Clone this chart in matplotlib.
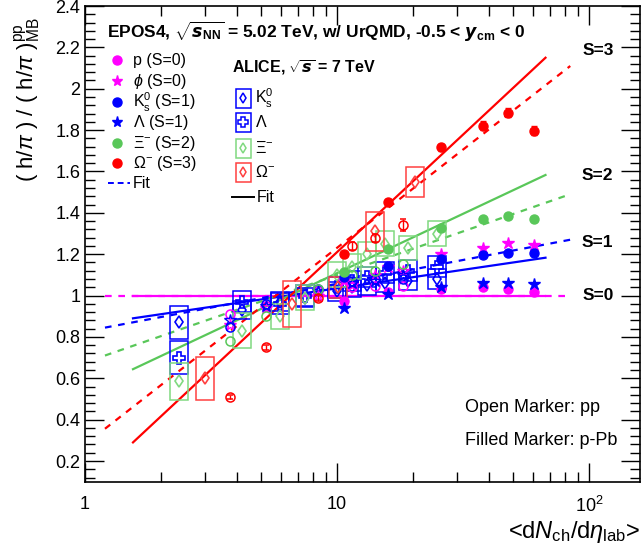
import matplotlib
matplotlib.use("Agg")
import matplotlib.pyplot as plt
from matplotlib.patches import Rectangle
from matplotlib.ticker import MultipleLocator, LogLocator, NullFormatter, FixedLocator, FixedFormatter
import numpy as np

plt.rcParams['font.family'] = ['Liberation Sans', 'DejaVu Sans']
plt.rcParams['mathtext.fontset'] = 'custom'
plt.rcParams['mathtext.rm'] = 'Liberation Sans'
plt.rcParams['mathtext.it'] = 'Liberation Sans:italic'
plt.rcParams['mathtext.bf'] = 'Liberation Sans:bold'

# EPOS4 p-Pb (filled markers)
x_ppb = [10.6, 15.9, 25.9, 37.9, 47.7, 60.5]
p_ppb = [0.976, 1.018, 1.034, 1.040, 1.034, 1.018]
phi_ppb = [1.07, 1.14, 1.20, 1.231, 1.256, 1.243]
k0s_ppb = [1.089, 1.143, 1.175, 1.195, 1.204, 1.204]
lam_ppb = [0.94, 1.006, 1.04, 1.062, 1.062, 1.057]
xi_ppb = [1.115, 1.227, 1.329, 1.369, 1.385, 1.372]
om_ppb = [1.201, 1.453, 1.716, 1.822, 1.885, 1.798]
om_ppb_err = [0.01, 0.012, 0.015, 0.02, 0.022, 0.02]

# EPOS4 pp (open markers)
x_pp = [3.76, 5.23, 8.41, 11.47, 14.15, 18.3]
p_pp = [0.91, 0.95, 1.02, 1.04, 1.045, 1.045]
phi_pp = [0.86, 0.94, 1.00, 1.05, 1.10, 1.12]
k0s_pp = [0.85, 0.96, 1.03, 1.07, 1.08, 1.08]
lam_pp = [0.88, 0.95, 1.02, 1.06, 1.07, 1.10]
xi_pp = [0.78, 0.90, 1.03, 1.10, 1.12, 1.155]
om_pp = [0.51, 0.75, 0.99, 1.24, 1.28, 1.34]
om_pp_err = [0.01, 0.012, 0.015, 0.02, 0.02, 0.03]

# ALICE pp 7 TeV
x_alice = [2.36, 4.20, 5.94, 7.47, 10.0, 11.47, 13.15, 15.5, 19.13, 24.9]
k0s_alice = [0.87, 0.93, 0.97, 0.99, 1.02, 1.04, 1.05, 1.06, 1.07, 1.08]
k0s_syst = [0.08, 0.045, 0.045, 0.045, 0.045, 0.045, 0.045, 0.045, 0.045, 0.05]
lam_alice = [0.70, 0.97, 0.96, 1.00, 1.04, 1.07, 1.09, 1.11, 1.12, 1.14]
lam_syst = [0.078, 0.05, 0.05, 0.05, 0.05, 0.05, 0.05, 0.05, 0.05, 0.05]
xi_alice = [0.585, 0.83, 0.90, 0.99, 1.10, 1.14, 1.20, 1.25, 1.23, 1.30]
xi_syst = [0.09, 0.085, 0.06, 0.06, 0.06, 0.06, 0.06, 0.06, 0.06, 0.06]
x_om_alice = [2.99, 6.63, 10.09, 14.15, 20.4]
om_alice = [0.60, 0.96, 1.04, 1.31, 1.55]
om_syst = [0.105, 0.11, 0.05, 0.095, 0.073]

# fit line end points
fit_solid_x = [1.55, 67]
fit_dash_x = [1.2, 84]
fit_solid = {'red': [0.29, 2.15], 'green': [0.644, 1.583], 'blue': [0.89, 1.183], 'magenta': [1.0, 1.0]}
fit_dash = {'red': [0.356, 2.11], 'green': [0.71, 1.49], 'blue': [0.845, 1.27], 'magenta': [1.0, 1.0]}

s_labels = ['S=3', 'S=2', 'S=1', 'S=0']
s_label_y = [2.186, 1.58, 1.255, 1.0]

RED = (1, 0, 0)
GREEN = (0.35, 0.78, 0.35)
BLUE = (0, 0, 1)
MAG = (1, 0, 1)
cols = {'red': RED, 'green': GREEN, 'blue': BLUE, 'magenta': MAG}

fig = plt.figure(figsize=(6.44, 5.48), dpi=100)
ax = fig.add_axes([0.132, 0.121, 0.862, 0.868])
ax.set_xscale('log')
ax.set_xlim(1, 159)
ax.set_ylim(0.1, 2.4)

# fits
for c in ['magenta', 'blue', 'green', 'red']:
    ax.plot(fit_dash_x, fit_dash[c], ls=(0, (3, 3)), color=cols[c], lw=1.6, zorder=2)
    ax.plot(fit_solid_x, fit_solid[c], ls='-', color=cols[c], lw=1.6, zorder=2)

# ALICE boxes
def boxes(xs, ys, syst, color, marker, ms):
    for x, y, s in zip(xs, ys, syst):
        lo, hi = x * 10 ** -0.036, x * 10 ** 0.036
        ax.add_patch(Rectangle((lo, y - s), hi - lo, 2 * s, fill=False, ec=color, lw=1.1, zorder=3))
    ax.plot(xs, ys, ls='none', marker=marker, ms=ms, mfc='none', mec=color, mew=1.2, zorder=3)

boxes(x_alice, k0s_alice, k0s_syst, BLUE, 'd', 6)
boxes(x_alice, lam_alice, lam_syst, BLUE, 'P', 8)
boxes(x_alice, xi_alice, xi_syst, (0.5, 0.85, 0.5), 'd', 6)
boxes(x_om_alice, om_alice, om_syst, (1, 0.25, 0.25), 'd', 6)

# EPOS pp open
ax.plot(x_pp, p_pp, 'o', ms=6.5, mfc='none', mec=MAG, mew=1.1, zorder=4)
ax.plot(x_pp, phi_pp, '*', ms=9, mfc='none', mec=MAG, mew=1.0, zorder=4)
ax.plot(x_pp, k0s_pp, 'o', ms=6.5, mfc='none', mec=BLUE, mew=1.1, zorder=4)
ax.plot(x_pp, lam_pp, '*', ms=9, mfc='none', mec=BLUE, mew=1.0, zorder=4)
ax.plot(x_pp, xi_pp, 'o', ms=6.5, mfc='none', mec=GREEN, mew=1.1, zorder=4)
ax.errorbar(x_pp, om_pp, yerr=om_pp_err, fmt='o', ms=6.5, mfc='none', mec=RED, ecolor=RED,
            mew=1.1, elinewidth=1, capsize=2.5, zorder=4)

# EPOS p-Pb filled
ax.plot(x_ppb, p_ppb, 'o', ms=6.5, color=MAG, zorder=5)
ax.plot(x_ppb, phi_ppb, '*', ms=9, color=MAG, zorder=5)
ax.plot(x_ppb, k0s_ppb, 'o', ms=6.5, color=BLUE, zorder=5)
ax.plot(x_ppb, lam_ppb, '*', ms=9, color=BLUE, zorder=5)
ax.plot(x_ppb, xi_ppb, 'o', ms=6.5, color=GREEN, zorder=5)
ax.errorbar(x_ppb, om_ppb, yerr=om_ppb_err, fmt='o', ms=6.5, color=RED, elinewidth=1, capsize=2.5, zorder=5)

# S labels
for lab, y in zip(s_labels, s_label_y):
    ax.text(108, y, lab, ha='center', va='center', fontsize=12.5, fontweight='bold')

# legends (manual, ROOT style)
T = ax.transAxes
ax.text(0.04, 0.945, r'EPOS4, $\sqrt{\mathbfit{s}_{\mathbf{NN}}}$ = 5.02 TeV, w/ UrQMD, -0.5 < $\mathbfit{y}_{\mathbf{cm}}$ < 0',
        transform=T, fontsize=12.5, fontweight='bold', va='center', ha='left')
leg_left = [('o', MAG, 'p (S=0)'), ('*', MAG, r'$\phi$ (S=0)'), ('o', BLUE, r'K$^{0}_{\rm s}$ (S=1)'),
            ('*', BLUE, r'$\Lambda$ (S=1)'), ('o', GREEN, r'$\Xi^{-}$ (S=2)'), ('o', RED, r'$\Omega^{-}$ (S=3)')]
rows = [60, 81, 102, 122, 143, 163]
for (m, c, lab), py in zip(leg_left, rows):
    yy = (481.6 - py) / 475.6
    ax.plot([0.0577], [yy], m, ms=6.5 if m == 'o' else 8, color=c, transform=T, clip_on=False)
    ax.text(0.0865, yy, lab, transform=T, fontsize=11.5, va='center', ha='left')
yy = (481.6 - 183) / 475.6
ax.plot([0.041, 0.081], [yy, yy], ls=(0, (3, 2)), color=BLUE, lw=1.4, transform=T)
ax.text(0.0865, yy, 'Fit', transform=T, fontsize=11.5, va='center', ha='left')

ax.text(0.265, 0.87, r'ALICE, $\sqrt{\mathbfit{s}}$ = 7 TeV', transform=T, fontsize=11.5,
        fontweight='bold', va='center', ha='left')
leg_right = [(BLUE, 'd', r'K$^{0}_{\rm s}$'), (BLUE, 'P', r'$\Lambda$'),
             ((0.5, 0.85, 0.5), 'd', r'$\Xi^{-}$'), ((1, 0.25, 0.25), 'd', r'$\Omega^{-}$')]
rows_r = [98, 122, 148, 172]
for (c, m, lab), py in zip(leg_right, rows_r):
    yy = (481.6 - py) / 475.6
    ax.add_patch(Rectangle((0.285 - 0.0135, yy - 0.02), 0.027, 0.04, fill=False, ec=c, lw=1.1, transform=T))
    ax.plot([0.285], [yy], m, ms=5 if m == 'd' else 7, mfc='none', mec=c, mew=1.1, transform=T)
    ax.text(0.306, yy, lab, transform=T, fontsize=11.5, va='center', ha='left')
yy = (481.6 - 197) / 475.6
ax.plot([0.265, 0.305], [yy, yy], '-', color='k', lw=1.4, transform=T)
ax.text(0.31, yy, 'Fit', transform=T, fontsize=11.5, va='center', ha='left')

ax.text(0.685, 0.155, 'Open Marker: pp', transform=T, fontsize=13, va='center', ha='left')
ax.text(0.685, 0.0875, 'Filled Marker: p-Pb', transform=T, fontsize=13, va='center', ha='left')

# axes style
ax.yaxis.set_major_locator(MultipleLocator(0.2))
ax.yaxis.set_minor_locator(MultipleLocator(0.04))
ax.xaxis.set_major_locator(FixedLocator([1, 10, 100]))
ax.xaxis.set_major_formatter(FixedFormatter(['1', '10', r'10$^{2}$']))
ax.xaxis.set_minor_locator(LogLocator(base=10, subs=np.arange(2, 10)))
ax.xaxis.set_minor_formatter(NullFormatter())
ax.tick_params(which='both', direction='in', top=True, right=True, labelsize=13, width=1)
ax.tick_params(which='major', length=14)
ax.tick_params(which='minor', length=7)
ax.tick_params(axis='x', pad=10)
ax.set_yticks([0.2, 0.4, 0.6, 0.8, 1.0, 1.2, 1.4, 1.6, 1.8, 2.0, 2.2, 2.4])
ax.set_yticklabels(['0.2', '0.4', '0.6', '0.8', '1', '1.2', '1.4', '1.6', '1.8', '2', '2.2', '2.4'])
for s in ax.spines.values():
    s.set_linewidth(1.2)

fig.text(0.043, 0.818, r'( h/$\pi$ ) / ( h/$\pi$ )$^{\rm pp}_{\rm MB}$', rotation=90,
         ha='center', va='center', fontsize=16)
fig.text(0.994, 0.03, r'<d$N_{\rm ch}$/d$\eta_{\rm lab}$>', ha='right', va='center', fontsize=17)

fig.savefig('out.png', dpi=100)
